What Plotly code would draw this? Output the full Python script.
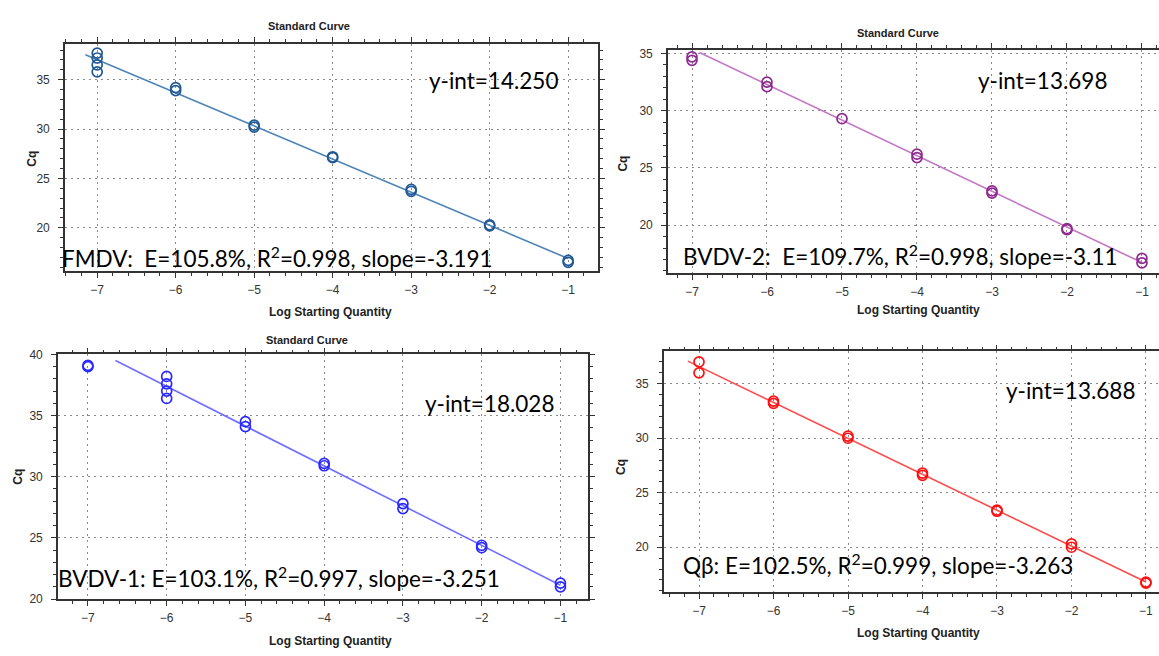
import numpy as np
import plotly.graph_objects as go

# ---------------- data ----------------
fmdv_x = [-7, -7, -7, -7, -6, -6, -5, -5, -4, -4, -3, -3, -2, -2, -1, -1]
fmdv_cq = [37.7, 37.2, 36.5, 35.8, 34.2, 33.9, 30.4, 30.2, 27.2, 27.1, 23.9, 23.7, 20.3, 20.2, 16.7, 16.5]

bvdv2_x = [-7, -7, -6, -6, -5, -4, -4, -3, -3, -2, -2, -1, -1]
bvdv2_cq = [34.7, 34.4, 32.5, 32.1, 29.3, 26.2, 25.9, 23.0, 22.8, 19.7, 19.6, 17.1, 16.7]

bvdv1_x = [-7, -7, -6, -6, -6, -6, -5, -5, -4, -4, -3, -3, -2, -2, -1, -1]
bvdv1_cq = [39.1, 39.0, 38.2, 37.6, 37.0, 36.4, 34.5, 34.1, 31.1, 30.9, 27.8, 27.4, 24.4, 24.2, 21.3, 21.0]

qb_x = [-7, -7, -6, -6, -5, -5, -4, -4, -3, -3, -2, -2, -1, -1]
qb_cq = [37.0, 36.0, 33.4, 33.2, 30.2, 30.0, 26.8, 26.6, 23.4, 23.3, 20.3, 20.0, 16.8, 16.7]

line_start = [-7.15, -6.9, -6.65, -7.15]
line_end = [-1, -1, -1, -1]

yint_labels = ["y-int=14.250", "y-int=13.698", "y-int=18.028", "y-int=13.688"]
stat_labels = [
    "FMDV:  E=105.8%, R<sup>2</sup>=0.998, slope=-3.191",
    "BVDV-2:  E=109.7%, R<sup>2</sup>=0.998, slope=-3.11",
    "BVDV-1: E=103.1%, R<sup>2</sup>=0.997, slope=-3.251",
    "Qβ: E=102.5%, R<sup>2</sup>=0.999, slope=-3.263",
]
titles = ["Standard Curve", "Standard Curve", "Standard Curve", ""]
x_ticks = [-7, -6, -5, -4, -3, -2, -1]

# ---------------- styling / layout ----------------
W, H = 1159, 656
def px(x):
    return x / W
def py(y):
    return 1 - y / H

panels = [
    dict(xs=fmdv_x, ys=fmdv_cq, mc="#215a94", lc="#4f84b6",
         dom_x=[65, 598], dom_y=[38, 270], xr=[-7.41, -0.62], yr=[15.6, 38.6],
         ymirror="ticks",
         yint_pos=(427, 75), stat_pos=(60, 255), title_pos=(309, 19),
         cq_pos=(32, 155), xl_pos=(330, 312)),
    dict(xs=bvdv2_x, ys=bvdv2_cq, mc="#8f2a90", lc="#c277c6",
         dom_x=[668, 1159], dom_y=[44, 272], xr=[-7.32, -0.773], yr=[15.8, 35.3],
         ymirror=False,
         yint_pos=(976, 75), stat_pos=(681, 253), title_pos=(898, 27),
         cq_pos=(623, 160), xl_pos=(918, 310)),
    dict(xs=bvdv1_x, ys=bvdv1_cq, mc="#2a2aff", lc="#6f6fff",
         dom_x=[58, 588], dom_y=[355, 605], xr=[-7.38, -0.65], yr=[20, 40],
         ymirror="ticks",
         yint_pos=(423, 405), stat_pos=(56, 582), title_pos=(307, 340),
         cq_pos=(18, 480), xl_pos=(330, 648)),
    dict(xs=qb_x, ys=qb_cq, mc="#ff1010", lc="#ff4a4a",
         dom_x=[664, 1159], dom_y=[352, 598], xr=[-7.47, -0.825], yr=[15.87, 37.96],
         ymirror=False,
         yint_pos=(1004, 392), stat_pos=(681, 569), title_pos=(898, 335),
         cq_pos=(621, 470), xl_pos=(918, 640)),
]

fig = go.Figure()
annotations = []
tick_font = dict(family="Liberation Sans, Arial, sans-serif", size=12, color="#333333")
axis_col = "#333333"
grid_col = "#8a8a8a"
text_font = dict(family="Lato, Carlito, sans-serif", size=22.5, color="#000000")
label_font = dict(family="Liberation Sans, Arial", size=12, color="#222222")

for i, p in enumerate(panels):
    n = "" if i == 0 else str(i + 1)
    xa, ya = "x" + n, "y" + n
    xs = np.array(p["xs"], dtype=float)
    ys = np.array(p["ys"], dtype=float)
    # regression line fitted to the points inside the line extent
    m = xs >= line_start[i]
    slope, icpt = np.polyfit(xs[m], ys[m], 1)
    lx = np.array([line_start[i], line_end[i]])
    fig.add_trace(go.Scatter(x=lx, y=slope * lx + icpt, mode="lines",
                             line=dict(color=p["lc"], width=1.6),
                             xaxis=xa, yaxis=ya, showlegend=False, hoverinfo="skip"))
    fig.add_trace(go.Scatter(x=xs, y=ys, mode="markers",
                             marker=dict(symbol="circle-open", size=10, color=p["mc"],
                                         line=dict(width=1.7, color=p["mc"])),
                             xaxis=xa, yaxis=ya, showlegend=False))

    common = dict(showline=True, linecolor=axis_col, linewidth=1.6,
                  ticks="outside", ticklen=5, tickwidth=1.3, tickcolor=axis_col,
                  showgrid=True, gridcolor=grid_col, gridwidth=1, griddash="2px,4px",
                  zeroline=False, tickfont=tick_font)
    fig.layout["xaxis" + n] = dict(
        domain=[px(p["dom_x"][0]), px(p["dom_x"][1])], range=p["xr"],
        anchor=ya, tickmode="array", tickvals=x_ticks, mirror="ticks",
        ticklabelstandoff=2,
        minor=dict(dtick=0.2, ticks="outside", ticklen=3, tickcolor=axis_col, showgrid=False),
        **common)
    fig.layout["yaxis" + n] = dict(
        domain=[py(p["dom_y"][1]), py(p["dom_y"][0])], range=p["yr"],
        anchor=xa, dtick=5, tick0=0, mirror=p["ymirror"],
        ticklabelstandoff=6,
        minor=dict(dtick=1, ticks="outside", ticklen=3, tickcolor=axis_col, showgrid=False),
        **common)

    annotations.append(dict(text=yint_labels[i], x=px(p["yint_pos"][0]), y=py(p["yint_pos"][1]),
                            xref="paper", yref="paper", xanchor="left", yanchor="middle",
                            showarrow=False, font=text_font))
    annotations.append(dict(text=stat_labels[i], x=px(p["stat_pos"][0]), y=py(p["stat_pos"][1]),
                            xref="paper", yref="paper", xanchor="left", yanchor="middle",
                            showarrow=False, font=text_font))
    if titles[i]:
        annotations.append(dict(text="<b>" + titles[i] + "</b>", x=px(p["title_pos"][0]),
                                y=py(p["title_pos"][1]), xref="paper", yref="paper",
                                xanchor="center", yanchor="middle", showarrow=False,
                                font=dict(family="Liberation Sans, Arial", size=11, color="#222222")))
    annotations.append(dict(text="<b>Cq</b>", x=px(p["cq_pos"][0]), y=py(p["cq_pos"][1]),
                            xref="paper", yref="paper", xanchor="center", yanchor="middle",
                            textangle=-90, showarrow=False, font=label_font))
    annotations.append(dict(text="<b>Log Starting Quantity</b>", x=px(p["xl_pos"][0]),
                            y=py(p["xl_pos"][1]), xref="paper", yref="paper",
                            xanchor="center", yanchor="middle", showarrow=False,
                            font=label_font))

fig.update_layout(width=W, height=H, margin=dict(l=0, r=0, t=0, b=0),
                  paper_bgcolor="white", plot_bgcolor="white",
                  annotations=annotations, showlegend=False)

fig.write_html("out.html")
